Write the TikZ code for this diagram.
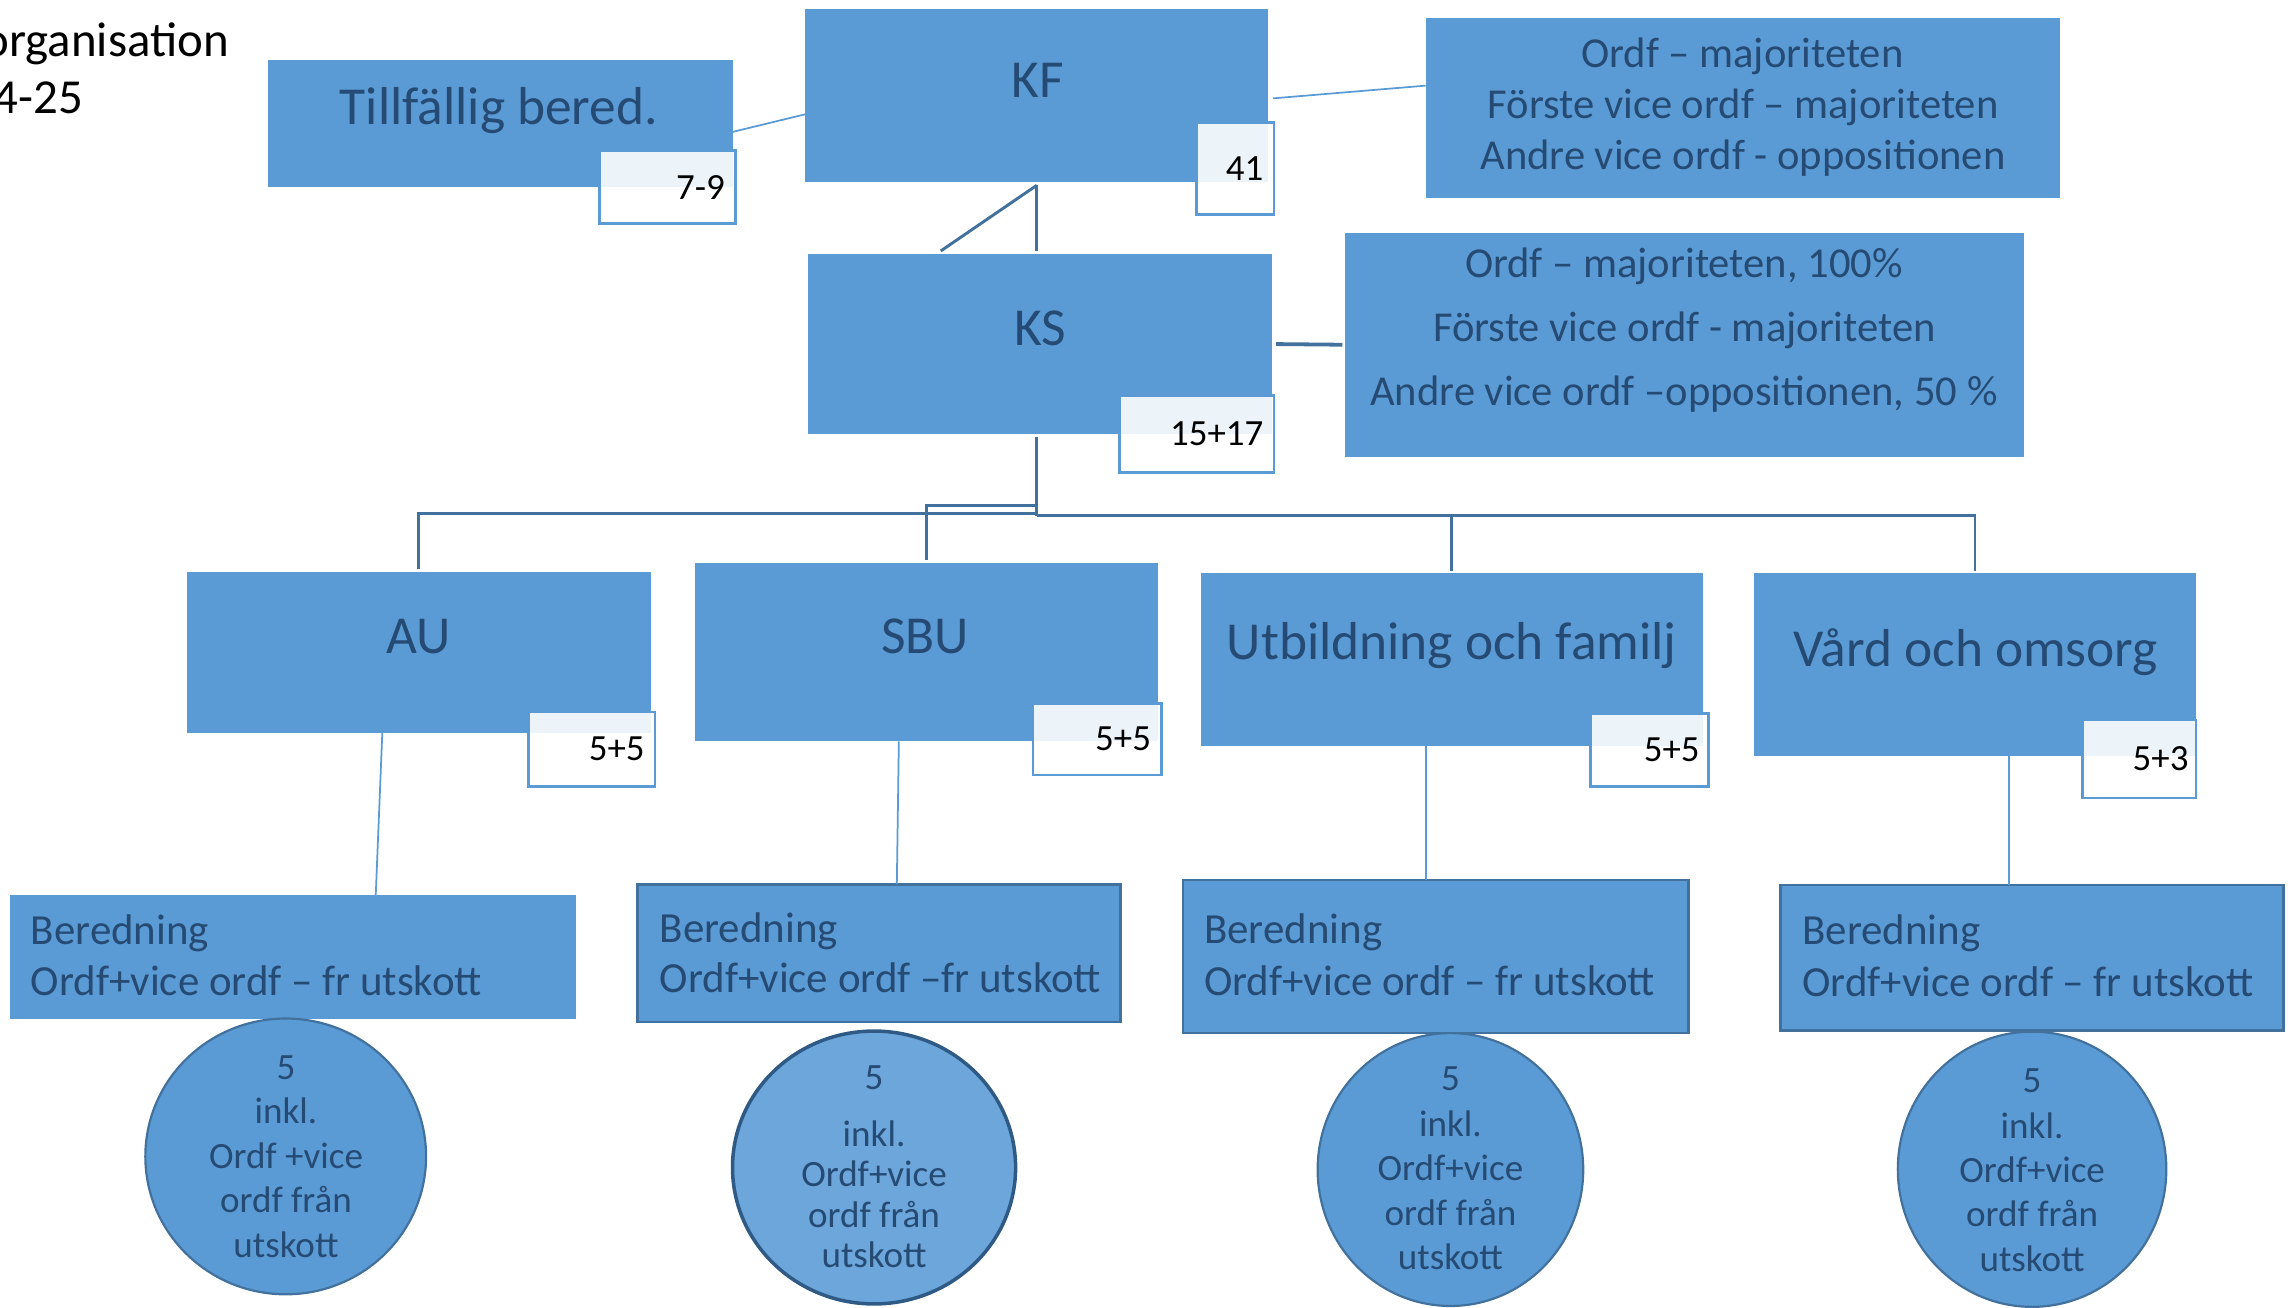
\documentclass[tikz,border=0pt]{standalone}
\usepackage{fontspec}
\setmainfont{Carlito}
\usetikzlibrary{shapes.geometric}
\definecolor{boxblue}{HTML}{5B9BD5}
\definecolor{ellblue}{HTML}{6CA6DA}
\definecolor{linedark}{HTML}{41719C}
\definecolor{elldark}{HTML}{2E5A85}
\definecolor{txtblue}{HTML}{254A73}
\tikzset{
  box/.style={rectangle, fill=boxblue, inner sep=0pt, outer sep=0pt},
  bered/.style={rectangle, fill=boxblue, draw=linedark, line width=1.8pt, inner sep=0pt, outer sep=0pt},
  badge/.style={rectangle, draw=boxblue, line width=1.8pt, fill=white, fill opacity=0.89, inner sep=0pt, outer sep=0pt},
  oval/.style={ellipse, fill=boxblue, draw=linedark, line width=1.5pt, inner sep=0pt},
  big/.style={font=\fontsize{36.6}{43}\selectfont, text=txtblue, anchor=base, inner sep=0pt},
  mid/.style={font=\fontsize{29.2}{35}\selectfont, text=txtblue, anchor=base, inner sep=0pt},
  bertxt/.style={font=\fontsize{29.4}{35}\selectfont, text=txtblue, anchor=base west, inner sep=0pt},
  small/.style={font=\fontsize{25.4}{30}\selectfont, text=txtblue, anchor=base, inner sep=0pt},
  num/.style={font=\fontsize{25.3}{30}\selectfont, text=black, anchor=base east, inner sep=0pt},
  title/.style={font=\fontsize{33.5}{40}\selectfont, text=black, anchor=base east, inner sep=0pt},
  tree/.style={draw=linedark, line width=2pt},
  thin/.style={draw=boxblue, line width=1.2pt},
}
\begin{document}
\begin{tikzpicture}[x=1pt,y=-1pt]
\useasboundingbox (0,0) rectangle (1568,896);

% title (cut at left edge, as in the reference)
\node[title] (tt1) at (157,39) {organisation};
\node[title] (tt2) at (57,78) {4-25};

% top row
\node[box, minimum width=318pt, minimum height=87pt] (tb) at (343,84.5) {};
\node[box, minimum width=317pt, minimum height=119pt] (kf) at (710.5,65.5) {};
\node[box, minimum width=435pt, minimum height=123.4pt] (r1) at (1194.5,74.3) {};
\node[box, minimum width=318pt, minimum height=123.6pt] (ks) at (713,235.8) {};
\node[box, minimum width=465pt, minimum height=153.5pt] (r2) at (1154.5,236.25) {};

% committees
\node[box, minimum width=318pt, minimum height=110pt] (au) at (287,447) {};
\node[box, minimum width=317.5pt, minimum height=122pt] (sbu) at (634.75,447) {};
\node[box, minimum width=344pt, minimum height=118pt] (ut) at (995,452) {};
\node[box, minimum width=303pt, minimum height=125pt] (vo) at (1353.5,455.5) {};

% beredning boxes
\node[box, minimum width=388pt, minimum height=84.5pt] (b1) at (201,655.75) {};
\node[bered, minimum width=331pt, minimum height=94.5pt] (b2) at (602.5,653.25) {};
\node[bered, minimum width=346.4pt, minimum height=105pt] (b3) at (983.8,655.5) {};
\node[bered, minimum width=345pt, minimum height=99.4pt] (b4) at (1392.5,656.3) {};

% ellipses
\node[oval, minimum width=192.4pt, minimum height=189pt] (e1) at (195.8,792.5) {};
\node[oval, fill=ellblue, draw=elldark, line width=2.4pt, minimum width=194pt, minimum height=187pt] (e2) at (599,800.1) {};
\node[oval, minimum width=182pt, minimum height=187pt] (e3) at (994,801.5) {};
\node[oval, minimum width=184pt, minimum height=188.6pt] (e4) at (1392.6,801.3) {};

% badges
\node[badge, minimum width=93pt, minimum height=50pt] (g1) at (457.5,128) {};
\node[badge, minimum width=53pt, minimum height=63pt] (g2) at (846.5,115.5) {};
\node[badge, minimum width=106pt, minimum height=53pt] (g3) at (820,297.5) {};
\node[badge, minimum width=87pt, minimum height=51pt] (g4) at (405.5,513.5) {};
\node[badge, minimum width=88pt, minimum height=49pt] (g5) at (752,506.5) {};
\node[badge, minimum width=81pt, minimum height=50pt] (g6) at (1130.5,514) {};
\node[badge, minimum width=78pt, minimum height=53.5pt] (g7) at (1466,520.25) {};

\node[num] (n1) at (497,137) {7-9};
\node[num] (n2) at (866,123.4) {41};
\node[num] (n3) at (866,305) {15+17};
\node[num] (n4) at (442,521) {5+5};
\node[num] (n5) at (789,514) {5+5};
\node[num] (n6) at (1165,522) {5+5};
\node[num] (n7) at (1500,528) {5+3};

% box texts
\node[big] (ltb) at (342,85) {Tillfällig bered.};
\node[big] (lkf) at (711,66.5) {KF};
\node[big] (lks) at (713,236.5) {KS};
\node[big] (lau) at (287,448) {AU};
\node[big] (lsbu) at (634,448) {SBU};
\node[big] (lut) at (995,452) {Utbildning och familj};
\node[big] (lvo) at (1354,456.5) {Vård och omsorg};

\node[mid] (r1a) at (1194,46) {Ordf – majoriteten};
\node[mid] (r1b) at (1194.5,81) {Förste vice ordf – majoriteten};
\node[mid] (r1c) at (1194.5,116.5) {Andre vice ordf - oppositionen};
\node[mid] (r2a) at (1154,190) {Ordf – majoriteten, 100\%};
\node[mid] (r2b) at (1154.5,234) {Förste vice ordf - majoriteten};
\node[mid] (r2c) at (1154,277.6) {Andre vice ordf –oppositionen, 50 \%};

\node[bertxt] (b1a) at (21,647) {Beredning};
\node[bertxt] (b1b) at (21,682) {Ordf+vice ordf – fr utskott};
\node[bertxt] (b2a) at (452,645.6) {Beredning};
\node[bertxt] (b2b) at (452,680) {Ordf+vice ordf –fr utskott};
\node[bertxt] (b3a) at (825,646.5) {Beredning};
\node[bertxt] (b3b) at (825,682) {Ordf+vice ordf – fr utskott};
\node[bertxt] (b4a) at (1235,647) {Beredning};
\node[bertxt] (b4b) at (1235,682.6) {Ordf+vice ordf – fr utskott};

\foreach \t/\yy [count=\i] in {5/739.5, inkl./770, Ordf +vice/800.5, ordf från/831, utskott/862}
  \node[small] (e1t\i) at (196,\yy) {\t};
\foreach \t/\yy [count=\i] in {5/746.6, inkl./785.5, Ordf+vice/813, ordf från/841, utskott/868.4}
  \node[small] (e2t\i) at (599,\yy) {\t};
\foreach \t/\yy [count=\i] in {5/747.5, inkl./778.6, Ordf+vice/808.8, ordf från/839.6, utskott/869.8}
  \node[small] (e3t\i) at (994,\yy) {\t};
\foreach \t/\yy [count=\i] in {5/749, inkl./780, Ordf+vice/810.6, ordf från/840.7, utskott/871.6}
  \node[small] (e4t\i) at (1392.6,\yy) {\t};

% connectors
\draw[thin] ([yshift=-5.9pt]tb.east) -- ([yshift=-12.8pt]kf.west);
\draw[thin] ([xshift=3.5pt,yshift=-1.9pt]kf.east) -- ([yshift=15.6pt]r1.west);
\draw[tree] ([yshift=-2pt]kf.south) -- ([xshift=-2.5pt,yshift=2pt]ks.north);
\draw[tree] ([yshift=-2pt]kf.south) -- ([xshift=-68.3pt,yshift=2pt]ks.north);
\draw[tree, line width=2.6pt] ([xshift=2.5pt]ks.east) -- ([xshift=-2pt]r2.west);

\coordinate (hub) at (710.5,352);
\draw[tree] ([xshift=-2.5pt,yshift=-2pt]ks.south) -- ([yshift=-1.5pt]hub);
\draw[tree] (hub) -| ([yshift=2pt]au.north);
\draw[tree] ([yshift=5.5pt]hub) -| ([yshift=2pt]sbu.north);
\draw[tree] ([yshift=-1.5pt]hub) -| ([yshift=2pt]vo.north);
\draw[tree] ([yshift=-1.5pt]hub) -| ([yshift=2pt]ut.north);

\draw[thin] ([xshift=-25pt]au.south) -- ([xshift=56.5pt]b1.north);
\draw[thin] ([xshift=-18.75pt]sbu.south) -- ([xshift=12.1pt]b2.north);
\draw[thin] ([xshift=-18pt]ut.south) -- ([xshift=-6.8pt]b3.north);
\draw[thin] ([xshift=23.1pt]vo.south) -- ([xshift=-15.9pt]b4.north);
\end{tikzpicture}
\end{document}
